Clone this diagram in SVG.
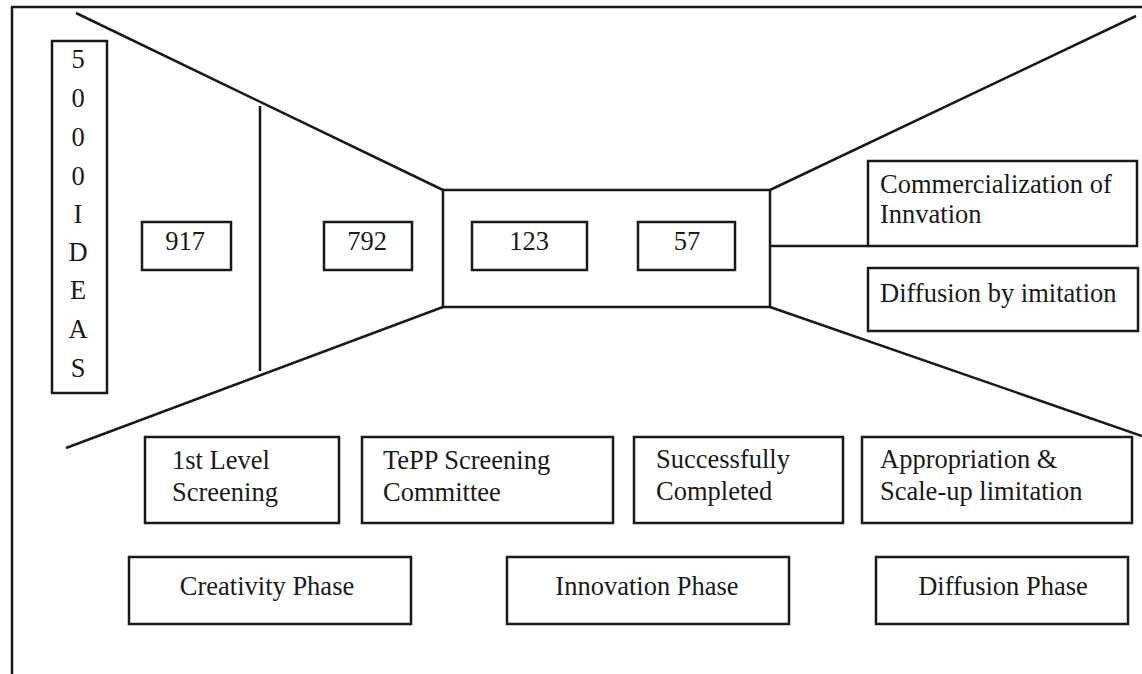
<svg xmlns="http://www.w3.org/2000/svg" width="1142" height="674" viewBox="0 0 1142 674">
<style>
.b{fill:none;stroke:#1a1a1a;stroke-width:2.5}
.l{fill:none;stroke:#1a1a1a;stroke-width:2.5}
text{font-family:"Liberation Serif","Times New Roman",serif;font-size:26.5px;fill:#1a1a1a}
.c{text-anchor:middle}
</style>
<rect width="1142" height="674" fill="#fff"/>
<g id="connectors">
<path class="l" d="M12,674 L12,7 L1142,7"/>
<path class="l" d="M76,13 L443,190"/>
<path class="l" d="M66,448 L443,307"/>
<path class="l" d="M260,106 L260,371"/>
<path class="l" d="M770,190 L1136,16"/>
<path class="l" d="M770,307 L1142,436"/>
<path class="l" d="M770,246 L868,246"/>
</g>
<g id="ideas"><rect class="b" x="52" y="41" width="55" height="352"/>
<text class="c" x="78" y="68">5</text><text class="c" x="78" y="107">0</text><text class="c" x="78" y="146">0</text><text class="c" x="78" y="185">0</text><text class="c" x="78" y="223">I</text><text class="c" x="78" y="261">D</text><text class="c" x="78" y="299">E</text><text class="c" x="78" y="338">A</text><text class="c" x="78" y="377">S</text></g>
<g id="n917"><rect class="b" x="142" y="222" width="89" height="48"/><text class="c" x="185" y="250">917</text></g>
<g id="n792"><rect class="b" x="324" y="222" width="88" height="48"/><text class="c" x="367" y="250">792</text></g>
<g id="center"><rect class="b" x="443" y="190" width="327" height="117"/></g>
<g id="n123"><rect class="b" x="472" y="222" width="115" height="48"/><text class="c" x="529" y="250">123</text></g>
<g id="n57"><rect class="b" x="638" y="222" width="97" height="48"/><text class="c" x="687" y="250">57</text></g>
<g id="commercial"><rect class="b" x="868" y="161" width="269" height="85"/><text x="880" y="193">Commercialization of</text><text x="880" y="223">Innvation</text></g>
<g id="diffimit"><rect class="b" x="868" y="268" width="270" height="63"/><text x="880" y="302">Diffusion by imitation</text></g>
<g id="level1"><rect class="b" x="145" y="437" width="194" height="86"/><text x="172" y="469">1st Level</text><text x="172" y="501">Screening</text></g>
<g id="tepp"><rect class="b" x="362" y="437" width="251" height="86"/><text x="383" y="469">TePP Screening</text><text x="383" y="501">Committee</text></g>
<g id="success"><rect class="b" x="634" y="437" width="209" height="86"/><text x="656" y="468">Successfully</text><text x="656" y="500">Completed</text></g>
<g id="approp"><rect class="b" x="862" y="437" width="270" height="86"/><text x="880" y="468">Appropriation &amp;</text><text x="880" y="500">Scale-up limitation</text></g>
<g id="creativity"><rect class="b" x="129" y="557" width="282" height="67"/><text class="c" x="267" y="595">Creativity Phase</text></g>
<g id="innovation"><rect class="b" x="507" y="557" width="282" height="67"/><text class="c" x="647" y="595">Innovation Phase</text></g>
<g id="diffusion"><rect class="b" x="876" y="557" width="252" height="67"/><text class="c" x="1003" y="595">Diffusion Phase</text></g>
</svg>
